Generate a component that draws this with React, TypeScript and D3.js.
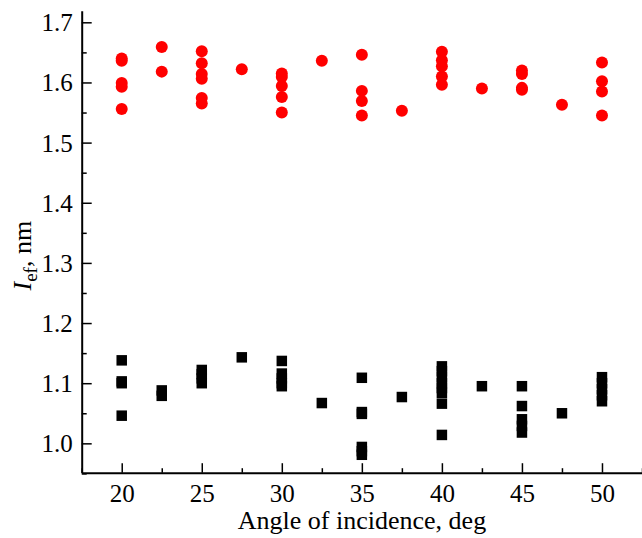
import * as React from "react";
import * as d3 from "d3";

// angle of incidence, deg
const circleAngles: number[] = [
    20, 20, 20, 20, 20,
    22.5, 22.5,
    25, 25, 25, 25, 25, 25,
    27.5,
    30, 30, 30, 30, 30,
    32.5,
    35, 35, 35, 35,
    37.5,
    40, 40, 40, 40, 40,
    42.5,
    45, 45, 45, 45,
    47.5,
    50, 50, 50, 50
];
const circleValues: number[] = [
    1.640, 1.636, 1.599, 1.593, 1.556,
    1.659, 1.618,
    1.652, 1.632, 1.614, 1.606, 1.574, 1.565,
    1.622,
    1.615, 1.609, 1.594, 1.576, 1.550,
    1.636,
    1.646, 1.586, 1.569, 1.545,
    1.553,
    1.651, 1.637, 1.627, 1.610, 1.596,
    1.590,
    1.620, 1.614, 1.591, 1.588,
    1.563,
    1.633, 1.602, 1.585, 1.545
];

const squareAngles: number[] = [
    20, 20, 20, 20,
    22.5, 22.5,
    25, 25, 25, 25,
    27.5,
    30, 30, 30, 30, 30,
    32.5,
    35, 35, 35, 35, 35, 35,
    37.5,
    40, 40, 40, 40, 40, 40, 40, 40,
    42.5,
    45, 45, 45, 45, 45,
    47.5,
    50, 50, 50, 50, 50
];
const squareValues: number[] = [
    1.138, 1.103, 1.100, 1.046,
    1.088, 1.079,
    1.122, 1.115, 1.108, 1.100,
    1.143,
    1.137, 1.116, 1.108, 1.100, 1.095,
    1.067,
    1.109, 1.052, 1.049, 0.994, 0.987, 0.981,
    1.077,
    1.128, 1.120, 1.110, 1.100, 1.092, 1.084, 1.066, 1.014,
    1.095,
    1.095, 1.062, 1.040, 1.029, 1.018,
    1.050,
    1.110, 1.100, 1.090, 1.080, 1.070
];

const xMajorTicks: number[] = [20, 25, 30, 35, 40, 45, 50];
const xMinorTicks: number[] = [17.5, 22.5, 27.5, 32.5, 37.5, 42.5, 47.5, 52.5];
const yMajorTicks: number[] = [1.0, 1.1, 1.2, 1.3, 1.4, 1.5, 1.6, 1.7];
const yMinorTicks: number[] = [0.95, 1.05, 1.15, 1.25, 1.35, 1.45, 1.55, 1.65];

const width: number = 642;
const height: number = 538;
const margin = { top: 10.7, right: 0, bottom: 65.3, left: 81.7 };
const fontFamily: string = "Liberation Serif, Times New Roman, serif";

const App = (): JSX.Element => {
    const ref = React.useRef<SVGSVGElement>(null);

    React.useEffect(() => {
        const svg = d3.select(ref.current);
        svg.selectAll("*").remove();

        const x = d3.scaleLinear().domain([17.5, 52.5]).range([margin.left, width - margin.right]);
        const y = d3.scaleLinear().domain([0.9512, 1.7193]).range([height - margin.bottom, margin.top]);
        const bottom: number = height - margin.bottom;

        // minor ticks first
        svg.append("g")
            .attr("transform", `translate(0,${bottom})`)
            .call(d3.axisBottom(x).tickValues(xMinorTicks).tickSize(-4.5).tickSizeOuter(0).tickFormat(() => ""))
            .call((g) => g.select(".domain").remove());
        svg.append("g")
            .attr("transform", `translate(${margin.left},0)`)
            .call(d3.axisLeft(y).tickValues(yMinorTicks).tickSize(-5).tickSizeOuter(0).tickFormat(() => ""))
            .call((g) => g.select(".domain").remove());

        const xG = svg.append("g")
            .attr("transform", `translate(0,${bottom})`)
            .call(d3.axisBottom(x).tickValues(xMajorTicks).tickSize(-9.5).tickSizeOuter(0).tickPadding(12)
                .tickFormat((d) => String(d)));
        const yG = svg.append("g")
            .attr("transform", `translate(${margin.left},0)`)
            .call(d3.axisLeft(y).tickValues(yMajorTicks).tickSize(-10).tickSizeOuter(0).tickPadding(9)
                .tickFormat(d3.format(".1f")));

        [xG, yG].forEach((g) => {
            g.selectAll("text")
                .attr("fill", "#000")
                .style("font-family", fontFamily)
                .style("font-size", "25px");
            g.select(".domain").attr("stroke", "#000").attr("stroke-width", 2);
        });
        xG.selectAll("text").attr("dy", "0.71em");
        yG.selectAll("text").attr("dy", "0.34em");
        svg.selectAll("g line").attr("stroke", "#000").attr("stroke-width", 1.5);

        // red circles
        svg.append("g")
            .selectAll("circle")
            .data(d3.range(circleAngles.length))
            .enter().append("circle")
            .attr("cx", (i: number) => x(circleAngles[i]))
            .attr("cy", (i: number) => y(circleValues[i]))
            .attr("r", 6)
            .attr("fill", "#ff0000");

        // black squares
        const s: number = 10.5;
        svg.append("g")
            .selectAll("rect")
            .data(d3.range(squareAngles.length))
            .enter().append("rect")
            .attr("x", (i: number) => x(squareAngles[i]) - s / 2)
            .attr("y", (i: number) => y(squareValues[i]) - s / 2)
            .attr("width", s)
            .attr("height", s)
            .attr("fill", "#000");

        // axis titles
        svg.append("text")
            .attr("x", 362)
            .attr("y", 529)
            .attr("text-anchor", "middle")
            .style("font-family", fontFamily)
            .style("font-size", "26px")
            .text("Angle of incidence, deg");

        const yTitle = svg.append("text")
            .attr("transform", `translate(31, ${(margin.top + bottom) / 2 + 14}) rotate(-90)`)
            .attr("text-anchor", "middle")
            .style("font-family", fontFamily)
            .style("font-size", "26px");
        yTitle.append("tspan").attr("font-style", "italic").text("I");
        yTitle.append("tspan").style("font-size", "19px").attr("dy", 6).text("ef");
        yTitle.append("tspan").attr("dy", -6).text(", nm");
    }, []);

    return <div style={{ position: "absolute", left: 0, top: 0 }}>
        <svg ref={ref} width={width} height={height} style={{ display: "block", background: "#fff" }} />
    </div>;
};

export default App;
